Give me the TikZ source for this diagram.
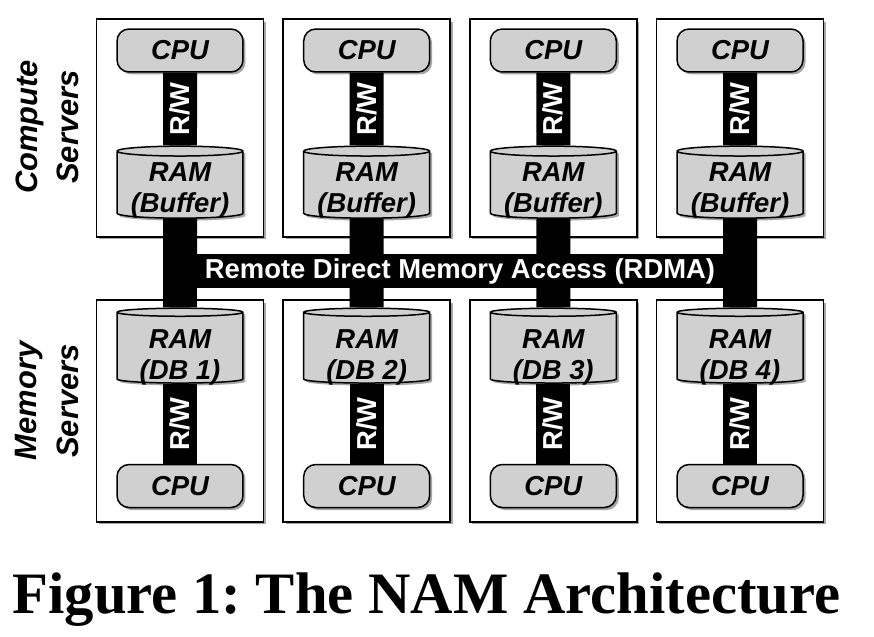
\documentclass[tikz,border=0pt]{standalone}
\usepackage{fontspec}
\setmainfont{Liberation Serif}
\setsansfont{Liberation Sans}
\usetikzlibrary{shapes.geometric,shadows,positioning}

\pgfdeclarelayer{boxes}
\pgfdeclarelayer{bus}
\pgfsetlayers{boxes,bus,main}

\definecolor{partgray}{RGB}{208,208,208}

\tikzset{
  boxshadow/.style={drop shadow={shadow xshift=0.05cm, shadow yshift=-0.05cm, opacity=0.35, fill=black}},
  computebox/.style={draw=black, line width=0.03cm, fill=white, inner sep=0pt,
    minimum width=3.34cm, minimum height=4.36cm, boxshadow},
  memorybox/.style={computebox, minimum height=4.44cm},
  cpu/.style={draw=black, line width=0.03cm, fill=partgray, rounded corners=0.24cm, inner sep=0pt,
    minimum width=2.52cm, minimum height=0.86cm, boxshadow,
    font=\sffamily\bfseries\itshape\fontsize{15.6}{17.6}\selectfont},
  ram/.style={cylinder, shape border rotate=90, aspect=0.1, draw=black, line width=0.03cm,
    fill=partgray, inner sep=0pt, minimum width=2.52cm, minimum height=1.44cm, boxshadow,
    text height=1.1cm, text depth=0pt, align=center,
    font=\sffamily\bfseries\itshape\fontsize{15.6}{17.6}\selectfont},
  dbram/.style={ram, minimum height=1.34cm, text height=1.24cm},
  link/.style={line width=0.68cm, black},
  rwlabel/.style={text=white, rotate=90, inner sep=0pt, font=\sffamily\bfseries\fontsize{15.6}{17.6}\selectfont},
  buslabel/.style={text=white, inner sep=0pt, font=\sffamily\bfseries\fontsize{15.6}{17.6}\selectfont},
  sidelabel/.style={rotate=90, align=center, inner sep=0pt, font=\sffamily\bfseries\itshape\fontsize{17.6}{23.5}\selectfont},
}

\begin{document}
\begin{tikzpicture}[x=0.02cm, y=-0.02cm]
  \useasboundingbox (0,0) rectangle (874,636);

  % server boxes
  \begin{pgfonlayer}{boxes}
    \node[computebox] (cbox1) at (180,128) {};
    \node[computebox] (cbox2) at (366.7,128) {};
    \node[computebox] (cbox3) at (553.3,128) {};
    \node[computebox] (cbox4) at (740,128) {};
    \node[memorybox] (mbox1) at (180,411) {};
    \node[memorybox] (mbox2) at (366.7,411) {};
    \node[memorybox] (mbox3) at (553.3,411) {};
    \node[memorybox] (mbox4) at (740,411) {};
  \end{pgfonlayer}

  % compute servers
  \node[cpu] (ccpu1) at (180,50.5) {CPU};
  \node[cpu] (ccpu2) at (366.7,50.5) {CPU};
  \node[cpu] (ccpu3) at (553.3,50.5) {CPU};
  \node[cpu] (ccpu4) at (740,50.5) {CPU};
  \node[ram] (cram1) at (180,185) {RAM\\(Buffer)};
  \node[ram] (cram2) at (366.7,185) {RAM\\(Buffer)};
  \node[ram] (cram3) at (553.3,185) {RAM\\(Buffer)};
  \node[ram] (cram4) at (740,185) {RAM\\(Buffer)};

  % memory servers
  \node[dbram] (mram1) at (180,348) {RAM\\(DB 1)};
  \node[dbram] (mram2) at (366.7,348) {RAM\\(DB 2)};
  \node[dbram] (mram3) at (553.3,348) {RAM\\(DB 3)};
  \node[dbram] (mram4) at (740,348) {RAM\\(DB 4)};
  \node[cpu] (mcpu1) at (180,486) {CPU};
  \node[cpu] (mcpu2) at (366.7,486) {CPU};
  \node[cpu] (mcpu3) at (553.3,486) {CPU};
  \node[cpu] (mcpu4) at (740,486) {CPU};

  % links
  \begin{pgfonlayer}{bus}
    \draw[link] (ccpu1.south) -- (cram1.north) node[rwlabel, midway] (crw1) {R/W};
    \draw[link] (ccpu2.south) -- (cram2.north) node[rwlabel, midway] (crw2) {R/W};
    \draw[link] (ccpu3.south) -- (cram3.north) node[rwlabel, midway] (crw3) {R/W};
    \draw[link] (ccpu4.south) -- (cram4.north) node[rwlabel, midway] (crw4) {R/W};
    \draw[link] (mram1.south) -- (mcpu1.north) node[rwlabel, midway] (mrw1) {R/W};
    \draw[link] (mram2.south) -- (mcpu2.north) node[rwlabel, midway] (mrw2) {R/W};
    \draw[link] (mram3.south) -- (mcpu3.north) node[rwlabel, midway] (mrw3) {R/W};
    \draw[link] (mram4.south) -- (mcpu4.north) node[rwlabel, midway] (mrw4) {R/W};
    \draw[link] (cram1.south) -- (mram1.north);
    \draw[link] (cram2.south) -- (mram2.north);
    \draw[link] (cram3.south) -- (mram3.north);
    \draw[link] (cram4.south) -- (mram4.north);
    \coordinate (rdmaW) at (180,271);
    \coordinate (rdmaE) at (740,271);
    \draw[link] (rdmaW) -- (rdmaE) node[buslabel, midway] (rdma) {Remote Direct Memory Access (RDMA)};
  \end{pgfonlayer}

  % side labels
  \node[sidelabel] (computelabel) at (47,127) {Compute\\Servers};
  \node[sidelabel] (memorylabel) at (47,401) {Memory\\Servers};

  \node[anchor=base, font=\rmfamily\bfseries\fontsize{33.4}{40}\selectfont] (caption) at (426.5,613) {Figure 1:\ The NAM Architecture};
\end{tikzpicture}
\end{document}
